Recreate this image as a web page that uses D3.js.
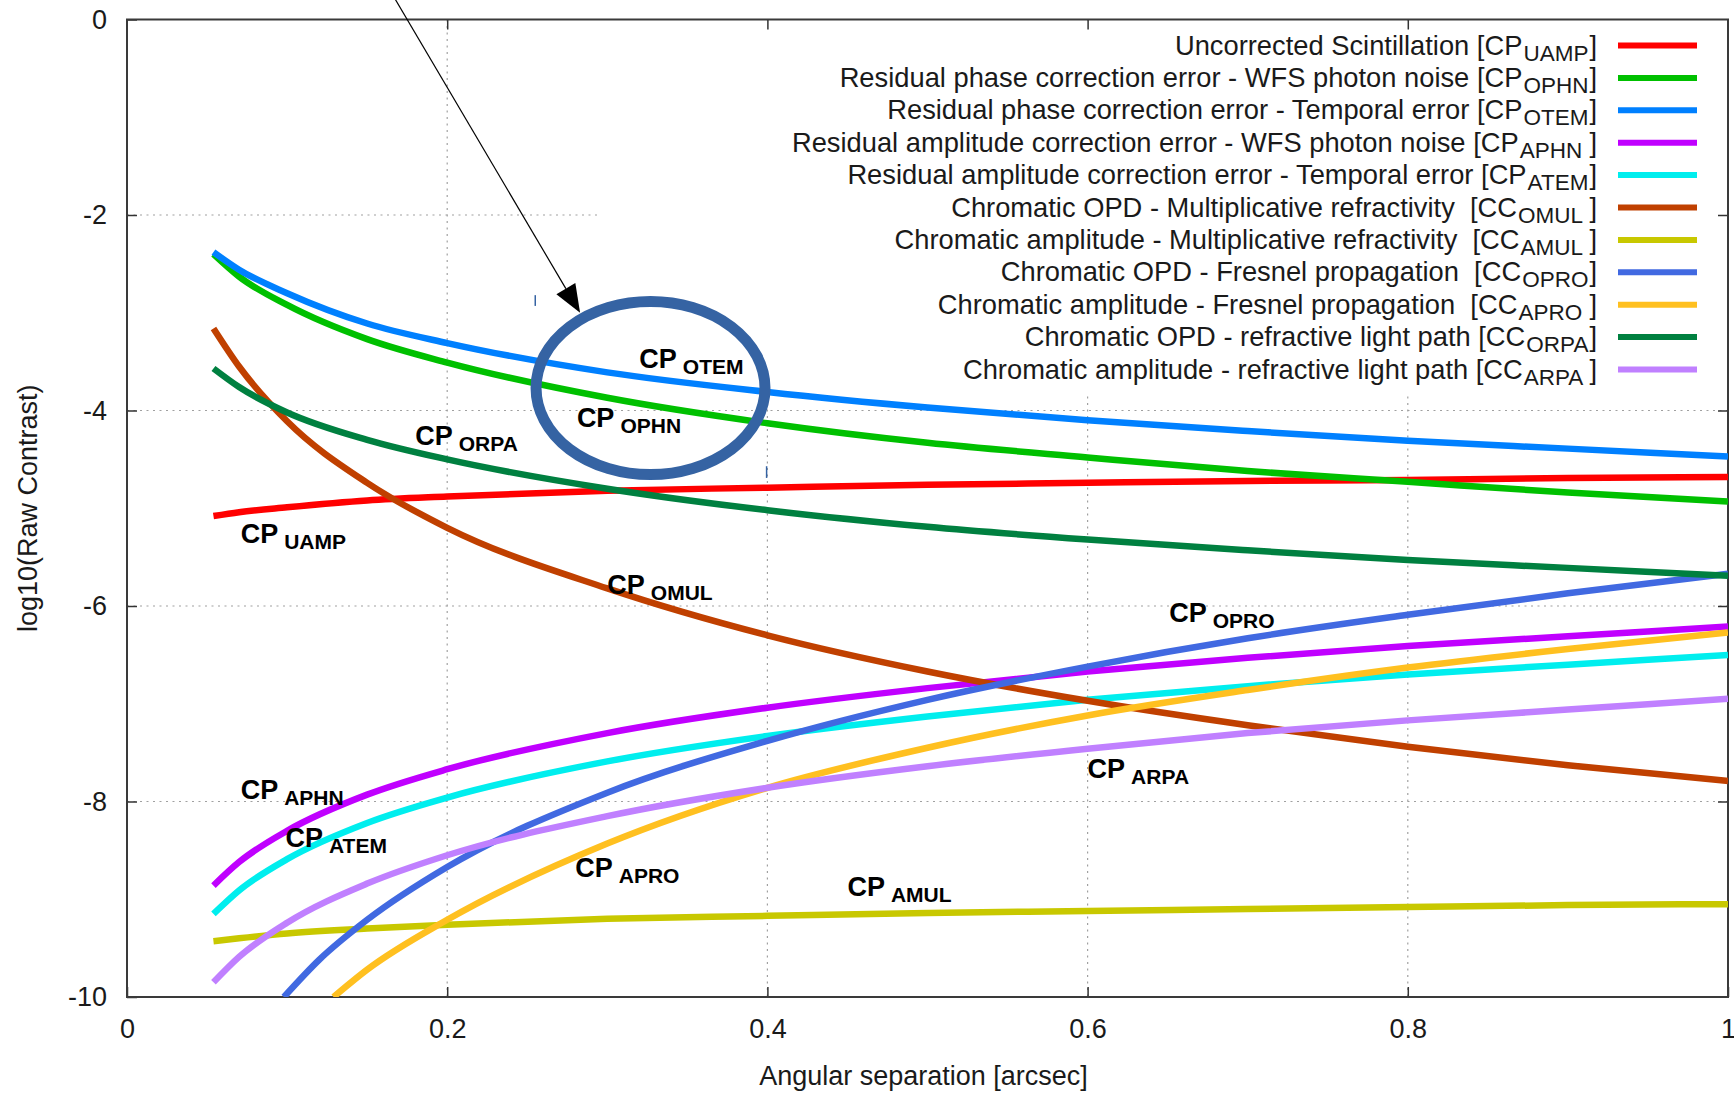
<!DOCTYPE html>
<html>
<head>
<meta charset="utf-8">
<script src="https://cdn.jsdelivr.net/npm/d3@7"></script>
<style>
  html, body { margin: 0; padding: 0; background: #fff; }
  svg { display: block; }
  text { font-family: "Liberation Sans", Arial, Helvetica, sans-serif; white-space: pre; }
</style>
</head>
<body>
<svg id="chart" width="1734" height="1094"></svg>
<script>
// Angular separation samples [arcsec]
const sepCommon = [0.054, 0.07, 0.1, 0.15, 0.2, 0.3, 0.4, 0.5, 0.6, 0.7, 0.8, 0.9, 1.0];
const sepOPRO   = [0.098, 0.12, 0.15, 0.2, 0.3, 0.4, 0.5, 0.6, 0.7, 0.8, 0.9, 1.0];
const sepAPRO   = [0.129, 0.15, 0.2, 0.3, 0.4, 0.5, 0.6, 0.7, 0.8, 0.9, 1.0];

// log10(raw contrast) for each error term
const cpUAMP = [-5.08, -5.04, -4.99, -4.92, -4.88, -4.82, -4.79, -4.76, -4.74, -4.72, -4.71, -4.69, -4.68];
const cpOPHN = [-2.40, -2.63, -2.92, -3.27, -3.51, -3.87, -4.13, -4.33, -4.48, -4.62, -4.73, -4.84, -4.93];
const cpOTEM = [-2.38, -2.56, -2.80, -3.11, -3.31, -3.61, -3.81, -3.97, -4.10, -4.21, -4.31, -4.39, -4.47];
const cpAPHN = [-8.86, -8.62, -8.30, -7.93, -7.67, -7.30, -7.04, -6.84, -6.67, -6.53, -6.41, -6.31, -6.21];
const cpATEM = [-9.15, -8.91, -8.59, -8.22, -7.96, -7.59, -7.33, -7.13, -6.96, -6.82, -6.70, -6.60, -6.50];
const ccOMUL = [-3.16, -3.55, -4.11, -4.74, -5.20, -5.82, -6.30, -6.67, -6.97, -7.22, -7.44, -7.63, -7.79];
const ccAMUL = [-9.43, -9.40, -9.35, -9.30, -9.26, -9.20, -9.17, -9.14, -9.12, -9.10, -9.08, -9.06, -9.05];
const ccOPRO = [-10.0, -9.62, -9.21, -8.67, -7.91, -7.38, -6.96, -6.62, -6.33, -6.09, -5.87, -5.67];
const ccAPRO = [-10.0, -9.72, -9.21, -8.43, -7.86, -7.45, -7.12, -6.86, -6.63, -6.44, -6.27];
const ccORPA = [-3.57, -3.76, -4.02, -4.30, -4.50, -4.80, -5.02, -5.19, -5.32, -5.43, -5.53, -5.61, -5.69];
const ccARPA = [-9.85, -9.59, -9.24, -8.84, -8.55, -8.15, -7.86, -7.64, -7.46, -7.30, -7.17, -7.06, -6.95];

// Legend texts
const legendNames = [
  "Uncorrected Scintillation [",
  "Residual phase correction error - WFS photon noise [",
  "Residual phase correction error - Temporal error [",
  "Residual amplitude correction error - WFS photon noise [",
  "Residual amplitude correction error - Temporal error [",
  "Chromatic OPD - Multiplicative refractivity  [",
  "Chromatic amplitude - Multiplicative refractivity  [",
  "Chromatic OPD - Fresnel propagation  [",
  "Chromatic amplitude - Fresnel propagation  [",
  "Chromatic OPD - refractive light path [",
  "Chromatic amplitude - refractive light path ["
];
const legendCodes = ["CP", "CP", "CP", "CP", "CP", "CC", "CC", "CC", "CC", "CC", "CC"];
const legendSubs  = ["UAMP", "OPHN", "OTEM", "APHN ", "ATEM", "OMUL ", "AMUL ", "OPRO", "APRO ", "ORPA", "ARPA "];
const seriesColors = ["#ff0000", "#00c000", "#0080ff", "#c000ff", "#00eeee", "#c04000",
                      "#c8c800", "#4169e1", "#ffc020", "#008040", "#c080ff"];

// In-plot curve labels: subscript and anchor (separation, log10 contrast)
const labelSubs = ["OTEM", "OPHN", "ORPA", "UAMP", "OMUL", "OPRO", "APHN", "ATEM", "APRO", "AMUL", "ARPA"];
const labelSep  = [0.320, 0.281, 0.180, 0.071, 0.300, 0.651, 0.071, 0.099, 0.280, 0.450, 0.600];
const labelVal  = [-3.565, -4.17, -4.35, -5.36, -5.88, -6.16, -7.97, -8.47, -8.77, -8.97, -7.76];

// Axis ticks
const xTicks = [0, 0.2, 0.4, 0.6, 0.8, 1];
const yTicks = [0, -2, -4, -6, -8, -10];

const series = [
  { x: sepCommon, y: cpUAMP }, { x: sepCommon, y: cpOPHN }, { x: sepCommon, y: cpOTEM },
  { x: sepCommon, y: cpAPHN }, { x: sepCommon, y: cpATEM }, { x: sepCommon, y: ccOMUL },
  { x: sepCommon, y: ccAMUL }, { x: sepOPRO, y: ccOPRO }, { x: sepAPRO, y: ccAPRO },
  { x: sepCommon, y: ccORPA }, { x: sepCommon, y: ccARPA }
];

const svg = d3.select("#chart");
const W = 1734, H = 1094;
const plot = { left: 127, right: 1728, top: 19.5, bottom: 997 };

svg.append("rect").attr("width", W).attr("height", H).attr("fill", "#fff");

const x = d3.scaleLinear().domain([0, 1]).range([plot.left, plot.right]);
const y = d3.scaleLinear().domain([-10, 0]).range([plot.bottom, plot.top]);

// Dotted grid
const grid = svg.append("g").attr("stroke", "#a0a0a0").attr("stroke-width", 1.2)
  .attr("stroke-dasharray", "2,4.5");
xTicks.filter(t => t > 0 && t < 1).forEach(t => {
  grid.append("line").attr("x1", x(t)).attr("x2", x(t)).attr("y1", plot.top).attr("y2", plot.bottom);
});
yTicks.filter(t => t < 0 && t > -10).forEach(t => {
  grid.append("line").attr("x1", plot.left).attr("x2", plot.right).attr("y1", y(t)).attr("y2", y(t));
});

// Opaque key box (hides grid behind the legend)
svg.append("rect")
  .attr("x", 597).attr("y", plot.top + 1)
  .attr("width", plot.right - 597 - 1).attr("height", 392 - plot.top)
  .attr("fill", "#fff");

// Axes with inward ticks
const tickLen = 10;
const axisStyle = g => {
  g.select(".domain").remove();
  g.selectAll(".tick line").attr("stroke", "#333").attr("stroke-width", 1.5);
  g.selectAll(".tick text").attr("fill", "#1a1a1a").attr("font-size", 27)
    .attr("font-family", "'Liberation Sans', Arial, sans-serif");
};
svg.append("g").attr("transform", `translate(0,${plot.bottom})`)
  .call(d3.axisBottom(x).tickValues(xTicks).tickFormat(d => String(d))
    .tickSizeInner(-tickLen).tickSizeOuter(0).tickPadding(22))
  .call(axisStyle);
svg.append("g").attr("transform", `translate(0,${plot.top})`)
  .call(d3.axisTop(x).tickValues(xTicks.slice(1, -1)).tickFormat("")
    .tickSizeInner(-tickLen).tickSizeOuter(0))
  .call(axisStyle);
svg.append("g").attr("transform", `translate(${plot.left},0)`)
  .call(d3.axisLeft(y).tickValues(yTicks).tickFormat(d => String(d))
    .tickSizeInner(-tickLen).tickSizeOuter(0).tickPadding(20))
  .call(axisStyle);
svg.append("g").attr("transform", `translate(${plot.right},0)`)
  .call(d3.axisRight(y).tickValues(yTicks.slice(1, -1)).tickFormat("")
    .tickSizeInner(-tickLen).tickSizeOuter(0))
  .call(axisStyle);

// Plot frame
svg.append("rect")
  .attr("x", plot.left).attr("y", plot.top)
  .attr("width", plot.right - plot.left).attr("height", plot.bottom - plot.top)
  .attr("fill", "none").attr("stroke", "#3a3a3a").attr("stroke-width", 2);

// Axis titles
svg.append("text").attr("x", (plot.left + plot.right) / 2 - 4).attr("y", 1085)
  .attr("text-anchor", "middle").attr("font-size", 27).attr("fill", "#1a1a1a")
  .text("Angular separation [arcsec]");
svg.append("text").attr("transform", `translate(37,${(plot.top + plot.bottom) / 2}) rotate(-90)`)
  .attr("text-anchor", "middle").attr("font-size", 27).attr("fill", "#1a1a1a")
  .text("log10(Raw Contrast)");

// Curves
svg.append("clipPath").attr("id", "plotClip").append("rect")
  .attr("x", plot.left).attr("y", plot.top)
  .attr("width", plot.right - plot.left).attr("height", plot.bottom - plot.top);

const line = d3.line().x(d => x(d[0])).y(d => y(d[1])).curve(d3.curveMonotoneX);
const curves = svg.append("g").attr("clip-path", "url(#plotClip)");
series.forEach((s, i) => {
  curves.append("path")
    .datum(s.x.map((v, j) => [v, s.y[j]]))
    .attr("d", line)
    .attr("fill", "none")
    .attr("stroke", seriesColors[i])
    .attr("stroke-width", 6.5);
});

// Legend
const legend = svg.append("g");
legendNames.forEach((name, i) => {
  const ly = 45.5 + i * 32.4;
  const t = legend.append("text")
    .attr("x", 1597).attr("y", ly + 9)
    .attr("text-anchor", "end").attr("font-size", 27.3).attr("fill", "#1a1a1a");
  t.append("tspan").text(name + legendCodes[i]);
  t.append("tspan").attr("dx", 1).attr("dy", 6).attr("font-size", 22.5).text(legendSubs[i]);
  t.append("tspan").attr("dx", 1).attr("dy", -6).text("]");
  legend.append("line")
    .attr("x1", 1618).attr("x2", 1697).attr("y1", ly).attr("y2", ly)
    .attr("stroke", seriesColors[i]).attr("stroke-width", 6);
});

// Curve labels
labelSubs.forEach((sub, i) => {
  const t = svg.append("text")
    .attr("x", x(labelSep[i])).attr("y", y(labelVal[i]))
    .attr("font-size", 27).attr("font-weight", "bold").attr("fill", "#000");
  t.append("tspan").text("CP");
  t.append("tspan").attr("dx", 6).attr("dy", 6).attr("font-size", 21).text(sub);
});

// Highlight ellipse around the phase-correction terms
const ell = { cx: 0.327, cy: -3.77, rx: 0.0715, ry: 0.886 };
svg.append("ellipse")
  .attr("cx", x(ell.cx)).attr("cy", y(ell.cy))
  .attr("rx", x(ell.rx) - x(0)).attr("ry", y(0) - y(ell.ry))
  .attr("fill", "none").attr("stroke", "#3563a3").attr("stroke-width", 11);

// Small selection marks left on the drawing
[[0.255, -2.82, -2.93], [0.3995, -4.57, -4.69]].forEach(m => {
  svg.append("line").attr("x1", x(m[0])).attr("x2", x(m[0]))
    .attr("y1", y(m[1])).attr("y2", y(m[2]))
    .attr("stroke", "#3563a3").attr("stroke-width", 1.5);
});

// Pointer arrow
const arrowFrom = [0.166, 0.25], arrowTo = [0.283, -3.0];
const ax1 = x(arrowFrom[0]), ay1 = y(arrowFrom[1]), ax2 = x(arrowTo[0]), ay2 = y(arrowTo[1]);
const ang = Math.atan2(ay2 - ay1, ax2 - ax1);
const headLen = 28, headHalf = 11;
const bx = ax2 - headLen * Math.cos(ang), by = ay2 - headLen * Math.sin(ang);
svg.append("line").attr("x1", ax1).attr("y1", ay1).attr("x2", bx).attr("y2", by)
  .attr("stroke", "#000").attr("stroke-width", 1.2);
svg.append("path")
  .attr("d", `M${ax2},${ay2}L${bx - headHalf * Math.sin(ang)},${by + headHalf * Math.cos(ang)}L${bx + headHalf * Math.sin(ang)},${by - headHalf * Math.cos(ang)}Z`)
  .attr("fill", "#000");
</script>
</body>
</html>
